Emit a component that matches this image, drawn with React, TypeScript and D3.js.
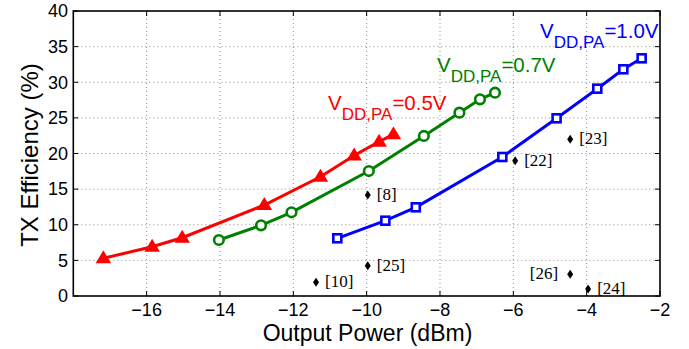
import React from 'react';
import * as d3 from 'd3';

const xTicks = [-16, -14, -12, -10, -8, -6, -4, -2];
const yTicks = [0, 5, 10, 15, 20, 25, 30, 35, 40];

const redX = [-17.18, -15.85, -15.03, -12.79, -11.26, -10.34, -9.66, -9.27];
const redY = [5.29, 6.92, 8.18, 12.77, 16.74, 19.72, 21.66, 22.69];

const greenX = [-14.03, -12.88, -12.05, -9.94, -8.44, -7.47, -6.91, -6.5];
const greenY = [7.86, 9.92, 11.75, 17.54, 22.46, 25.73, 27.6, 28.53];

const blueX = [-10.8, -9.49, -8.66, -6.3, -4.82, -3.71, -3.0, -2.5];
const blueY = [8.1, 10.57, 12.45, 19.51, 24.94, 29.1, 31.82, 33.36];

const refLabels = ['[10]', '[25]', '[8]', '[22]', '[23]', '[26]', '[24]'];
const refX = [-11.38, -9.97, -9.97, -5.95, -4.45, -4.45, -3.96];
const refY = [1.92, 4.25, 14.17, 18.99, 21.99, 3.04, 0.98];
const refLeft = [false, false, false, false, false, true, false];

const seriesLabels = ['=0.5V', '=0.7V', '=1.0V'];

const W = 689;
const H = 349;
const L = 73.3;
const R = 660;
const T = 11;
const B = 296;

export default function App() {
  const x = d3.scaleLinear().domain([-18, -2]).range([L, R]);
  const y = d3.scaleLinear().domain([0, 40]).range([B, T]);
  const line = d3
    .line<[number, number]>()
    .x((d) => x(d[0]))
    .y((d) => y(d[1]));
  const zip = (a: number[], b: number[]) => a.map((v, i) => [v, b[i]] as [number, number]);
  const red = zip(redX, redY);
  const green = zip(greenX, greenY);
  const blue = zip(blueX, blueY);
  const font = 'Liberation Sans, Arial, Helvetica, sans-serif';
  const serif = 'Liberation Serif, Times New Roman, serif';
  const tk = 5;

  const labelPos = [
    { x: 328, y: 110, color: '#ff0000' },
    { x: 437, y: 72, color: '#008000' },
    { x: 540, y: 38, color: '#0000ff' },
  ];

  return (
    <svg
      width={W}
      height={H}
      style={{ position: 'absolute', left: 0, top: 0, background: '#fff' }}
      fontFamily={font}
    >
      <rect x={0} y={0} width={W} height={H} fill="#fff" />
      {/* grid */}
      {xTicks
        .filter((t) => t !== -2)
        .map((t) => (
          <line
            key={'gx' + t}
            x1={x(t)}
            x2={x(t)}
            y1={T}
            y2={B}
            stroke="#8a8a8a"
            strokeWidth={1}
            strokeDasharray="1,3"
          />
        ))}
      {yTicks
        .filter((t) => t !== 0 && t !== 40)
        .map((t) => (
          <line
            key={'gy' + t}
            x1={L}
            x2={R}
            y1={y(t)}
            y2={y(t)}
            stroke="#8a8a8a"
            strokeWidth={1}
            strokeDasharray="1,3"
          />
        ))}
      {/* ticks */}
      {xTicks.map((t) => (
        <g key={'tx' + t}>
          <line x1={x(t)} x2={x(t)} y1={B} y2={B - tk} stroke="#000" strokeWidth={1} />
          <line x1={x(t)} x2={x(t)} y1={T} y2={T + tk} stroke="#000" strokeWidth={1} />
          <text x={x(t)} y={316} textAnchor="middle" fontSize={18} fill="#000">
            {'\u2212' + Math.abs(t)}
          </text>
        </g>
      ))}
      {yTicks.map((t) => (
        <g key={'ty' + t}>
          <line x1={L} x2={L + tk} y1={y(t)} y2={y(t)} stroke="#000" strokeWidth={1} />
          <line x1={R} x2={R - tk} y1={y(t)} y2={y(t)} stroke="#000" strokeWidth={1} />
          <text x={68} y={y(t)} dy="0.35em" textAnchor="end" fontSize={18} fill="#000">
            {t}
          </text>
        </g>
      ))}
      {/* box */}
      <rect x={L} y={T} width={R - L} height={B - T} fill="none" stroke="#000" strokeWidth={1.6} />

      {/* series */}
      <path d={line(red) || ''} fill="none" stroke="#ff0000" strokeWidth={3} />
      <path d={line(green) || ''} fill="none" stroke="#008000" strokeWidth={3} />
      <path d={line(blue) || ''} fill="none" stroke="#0000ff" strokeWidth={3} />

      {red.map((d, i) => {
        const cx = x(d[0]);
        const cy = y(d[1]);
        return (
          <path
            key={'r' + i}
            d={`M${cx},${cy - 6} L${cx + 6},${cy + 4} L${cx - 6},${cy + 4} Z`}
            fill="#ff0000"
            stroke="#ff0000"
            strokeWidth={2}
            strokeLinejoin="miter"
          />
        );
      })}
      {green.map((d, i) => (
        <circle key={'g' + i} cx={x(d[0])} cy={y(d[1])} r={4.8} fill="#fff" stroke="#008000" strokeWidth={2.6} />
      ))}
      {blue.map((d, i) => (
        <rect
          key={'b' + i}
          x={x(d[0]) - 4}
          y={y(d[1]) - 4}
          width={8}
          height={8}
          fill="#fff"
          stroke="#0000ff"
          strokeWidth={2.6}
        />
      ))}

      {/* reference points */}
      {refX.map((v, i) => {
        const cx = x(v);
        const cy = y(refY[i]);
        return (
          <g key={'ref' + i}>
            <path d={`M${cx},${cy - 4.5} L${cx + 3},${cy} L${cx},${cy + 4.5} L${cx - 3},${cy} Z`} fill="#000" />
            <text
              x={refLeft[i] ? cx - 12 : cx + 9}
              y={cy + 5}
              textAnchor={refLeft[i] ? 'end' : 'start'}
              fontSize={17}
              fontFamily={serif}
              fill="#000"
            >
              {refLabels[i]}
            </text>
          </g>
        );
      })}

      {/* series labels */}
      {labelPos.map((p, i) => (
        <text key={'sl' + i} x={p.x} y={p.y} fill={p.color} fontSize={20.5}>
          V
          <tspan dy={10} fontSize={17}>
            DD,PA
          </tspan>
          <tspan dy={-10} fontSize={20.5}>
            {seriesLabels[i]}
          </tspan>
        </text>
      ))}

      {/* axis titles */}
      <text x={367.5} y={341} textAnchor="middle" fontSize={23} fill="#000">
        Output Power (dBm)
      </text>
      <text
        transform="translate(38,155) rotate(-90)"
        textAnchor="middle"
        fontSize={24}
        fill="#000"
      >
        TX Efficiency (%)
      </text>
    </svg>
  );
}
